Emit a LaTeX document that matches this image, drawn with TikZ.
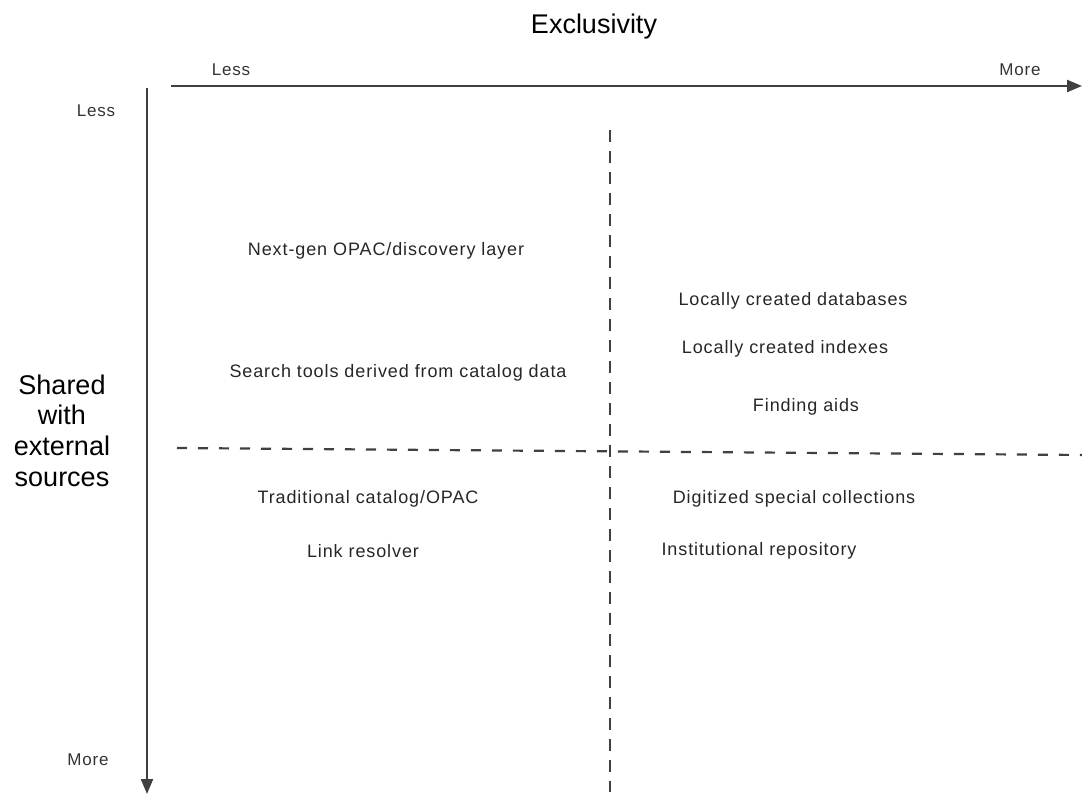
\documentclass[tikz,border=0pt]{standalone}
\usepackage{fontspec}
\setmainfont{Liberation Sans}
\newfontfamily\smallsp[LetterSpace=5]{Liberation Sans}
\usetikzlibrary{arrows.meta}
\definecolor{axisgray}{HTML}{404040}
\tikzset{
  axis/.style={draw=axisgray, line width=2.2pt, -{Triangle[length=15pt,width=12pt]}},
  divider/.style={draw=axisgray, line width=2.2pt},
  item/.style={font=\smallsp\fontsize{18}{22}\selectfont, text=black!85, inner sep=0pt},
  tick/.style={font=\smallsp\fontsize{17}{20}\selectfont, text=black!80, inner sep=0pt},
  big/.style={font=\fontsize{27}{31}\selectfont, text=black, inner sep=0pt, align=center}
}
\begin{document}
\begin{tikzpicture}[x=1pt,y=-1pt]
\useasboundingbox (0,0) rectangle (1082,794);
% axes
\coordinate (hs) at (171,86);
\coordinate (he) at (1082,86);
\coordinate (vs) at (147,88);
\coordinate (ve) at (147,794);
\draw[axis] (hs) -- (he);
\draw[axis] (vs) -- (ve);
% dividers
\coordinate (d1s) at (610,130);
\coordinate (d1e) at (610,792);
\coordinate (d2s) at (177,448);
\coordinate (d2e) at (1082,455);
\draw[divider, dash pattern=on 12pt off 9pt] (d1s) -- (d1e);
\draw[divider, dash pattern=on 10pt off 11pt] (d2s) -- (d2e);
% titles
\node[big] (title) at (594,27) {Exclusivity};
\node[big, text width=140pt] (shared) at (62,431) {Shared\\[-1pt]with\\[0pt]external\\[0pt]sources};
\node[tick] (hless) at (231,70) {Less};
\node[tick] (hmore) at (1020,70) {More};
\node[tick] (vless) at (96,111) {Less};
\node[tick] (vmore) at (88,760) {More};
% items
\node[item] (n1) at (386,251) {Next-gen OPAC/discovery layer};
\node[item] (n2) at (398,373) {Search tools derived from catalog data};
\node[item] (n3) at (793,301) {Locally created databases};
\node[item] (n4) at (785,349) {Locally created indexes};
\node[item] (n5) at (806,407) {Finding aids};
\node[item] (n6) at (368,499) {Traditional catalog/OPAC};
\node[item] (n7) at (363,551) {Link resolver};
\node[item] (n8) at (794,499) {Digitized special collections};
\node[item] (n9) at (759,551) {Institutional repository};
\end{tikzpicture}
\end{document}
